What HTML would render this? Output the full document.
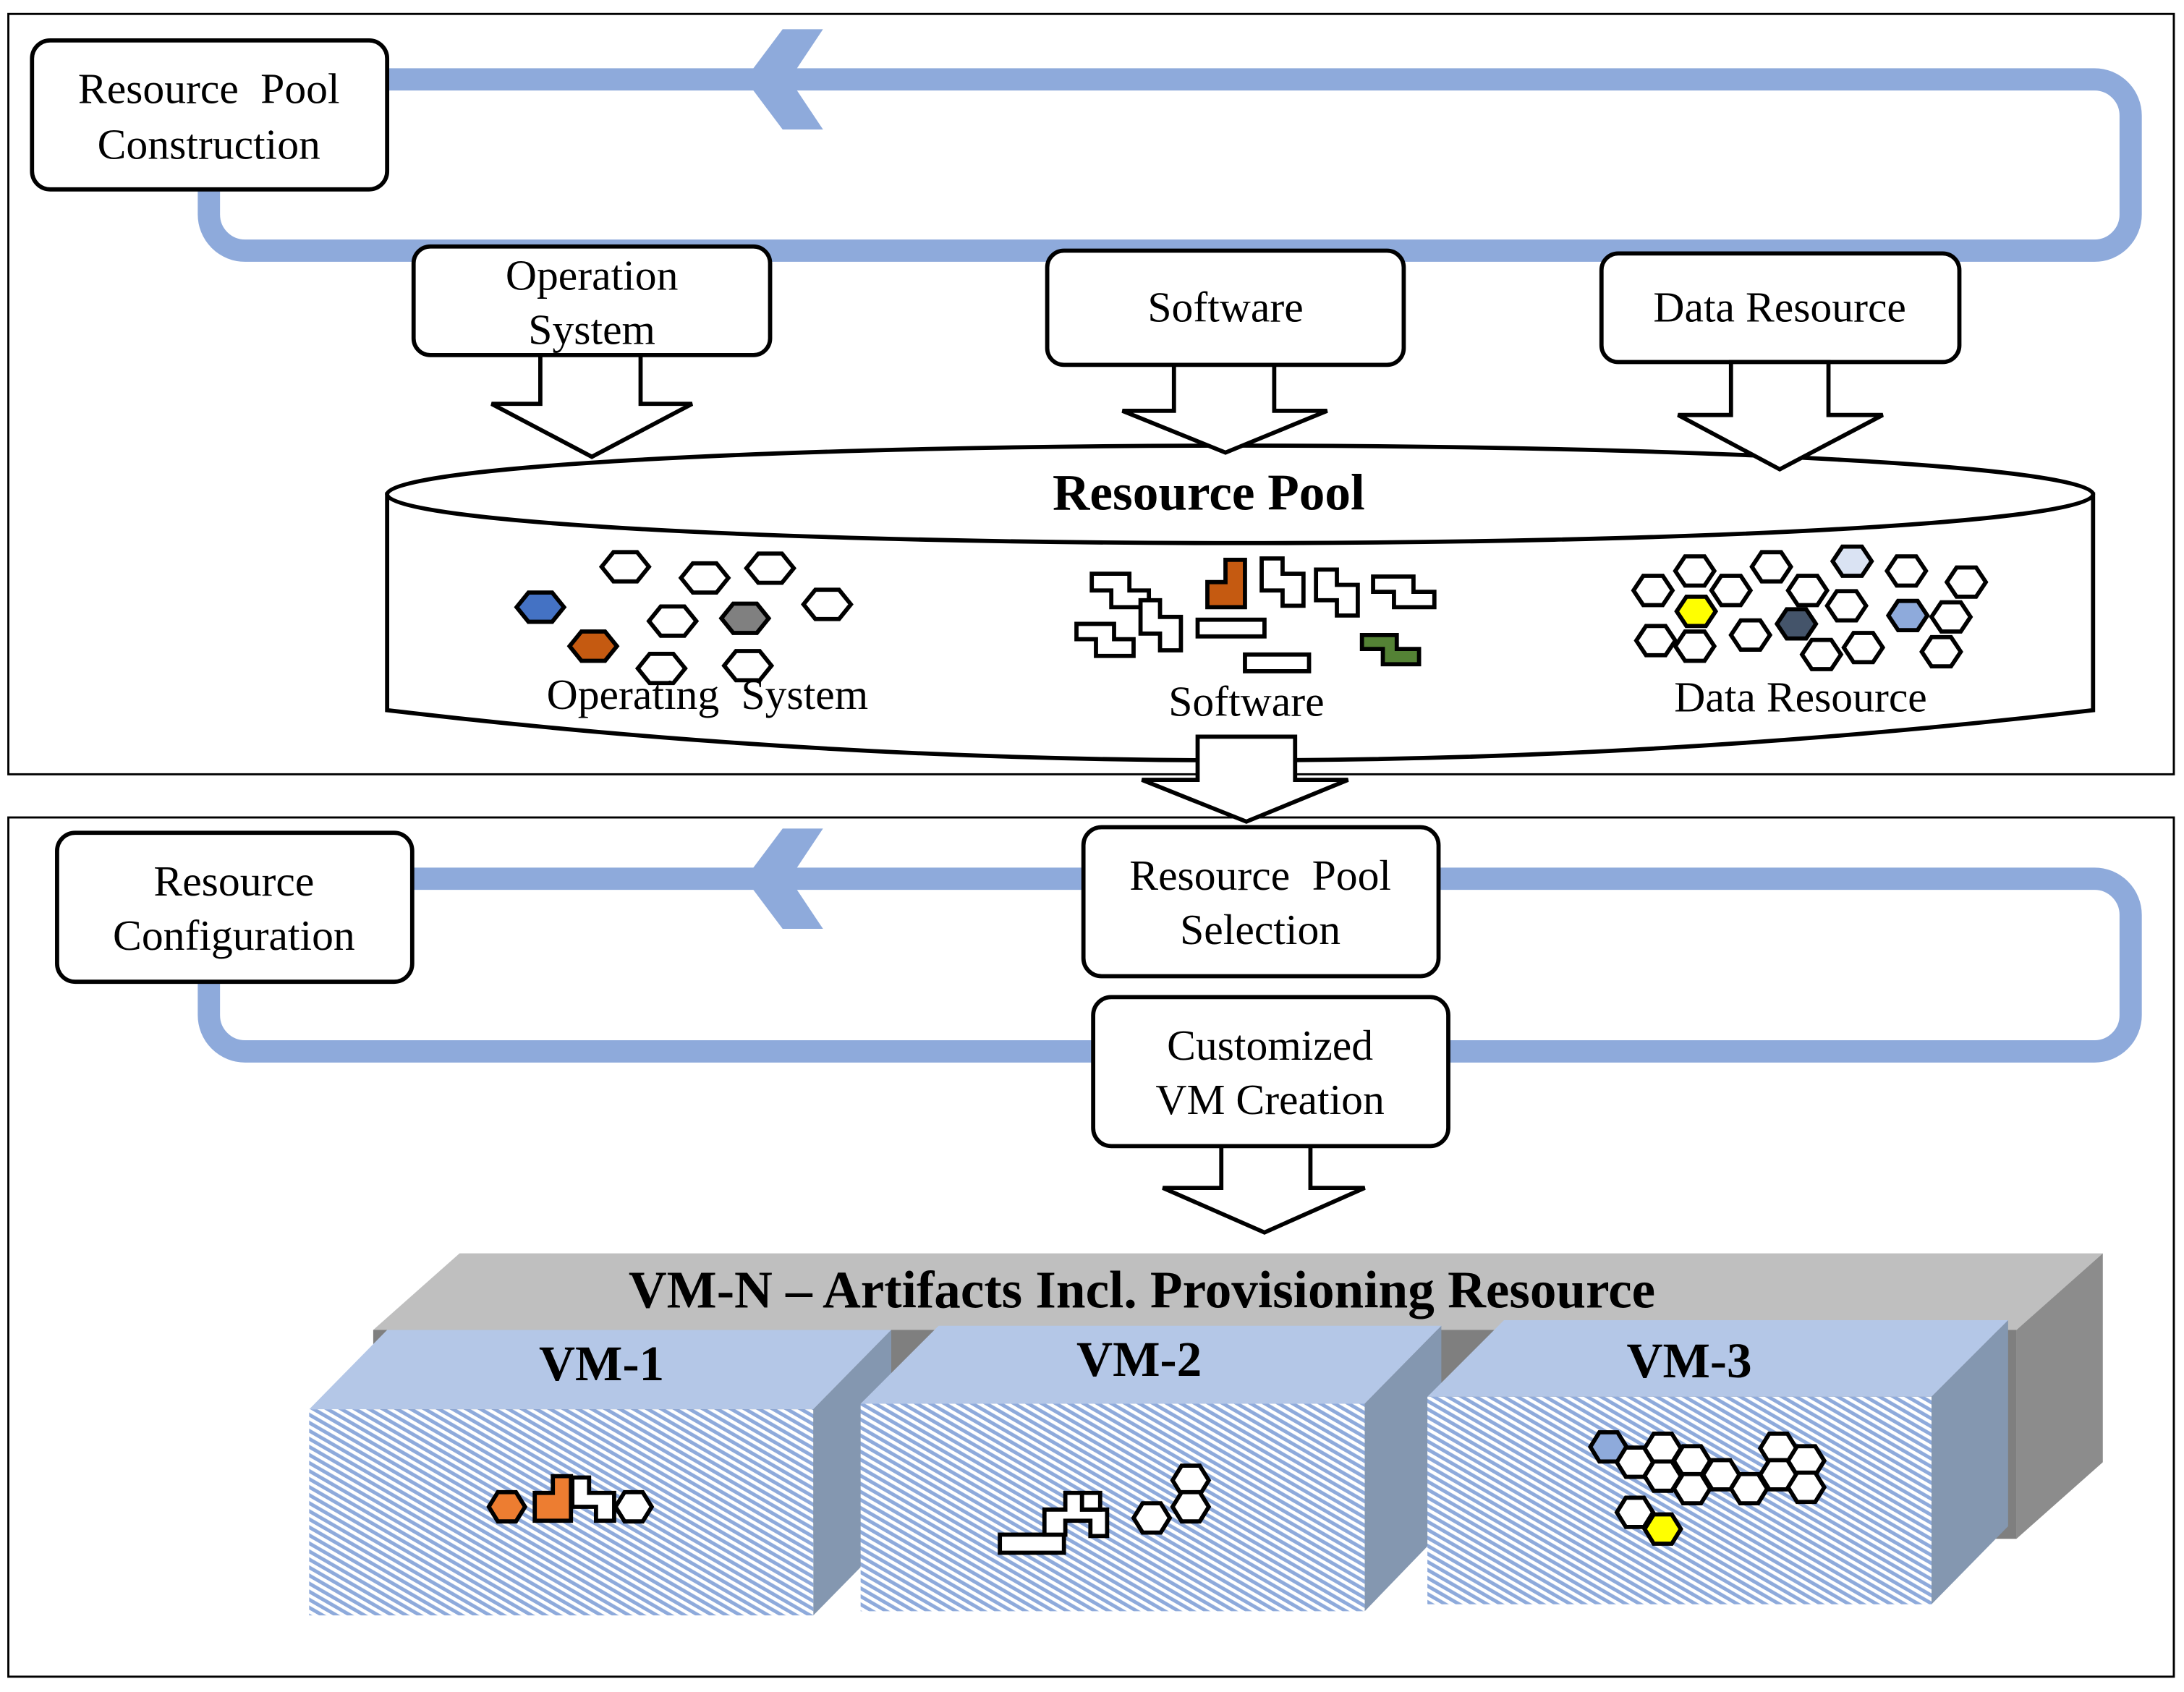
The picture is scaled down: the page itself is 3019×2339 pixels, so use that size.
<!DOCTYPE html>
<html><head><meta charset="utf-8"><style>
html,body{margin:0;padding:0;background:#fff;}
svg{display:block;}
text{font-family:"Liberation Serif",serif;fill:#000;}
</style></head><body>
<svg width="3019" height="2339" viewBox="0 0 1568.3 1215" preserveAspectRatio="none" xmlns="http://www.w3.org/2000/svg">
<defs>
<polygon id="hx" points="-17,0 -8.5,-10.5 8.5,-10.5 17,0 8.5,10.5 -8.5,10.5"/>
<polygon id="hd" points="-14,0 -7,-10.5 7,-10.5 14,0 7,10.5 -7,10.5"/>
<polygon id="hv" points="-13,0 -6.5,-10.5 6.5,-10.5 13,0 6.5,10.5 -6.5,10.5"/>
<pattern id="hatch" width="5" height="5" patternUnits="userSpaceOnUse" patternTransform="rotate(-60)">
<rect width="5" height="5" fill="#ffffff"/><rect width="2.6" height="5" fill="#8eaadb"/>
</pattern>
</defs>
<rect width="1568.3" height="1215" fill="#fff"/>
<rect x="6" y="10" width="1555" height="546" fill="none" stroke="#000" stroke-width="1.5"/>
<rect x="6" y="587" width="1555" height="617" fill="none" stroke="#000" stroke-width="1.5"/>

<rect x="150" y="57" width="1380" height="123" rx="26" fill="none" stroke="#8eaadb" stroke-width="16"/>
<polygon points="535,57 562,21 591,21 567,57 591,93 562,93" fill="#8eaadb"/>
<rect x="23" y="29" width="255" height="107" rx="13" fill="#fff" stroke="#000" stroke-width="3"/>
<text x="150" y="74" font-size="31" text-anchor="middle" word-spacing="8">Resource Pool</text>
<text x="150" y="114" font-size="31" text-anchor="middle">Construction</text>

<rect x="297" y="177" width="256" height="78" rx="12" fill="#fff" stroke="#000" stroke-width="3"/>
<text x="425" y="208" font-size="31" text-anchor="middle">Operation</text>
<text x="425" y="247" font-size="31" text-anchor="middle">System</text>
<rect x="752" y="180" width="256" height="82" rx="12" fill="#fff" stroke="#000" stroke-width="3"/>
<text x="880" y="231" font-size="31" text-anchor="middle">Software</text>
<rect x="1150" y="182" width="257" height="78" rx="12" fill="#fff" stroke="#000" stroke-width="3"/>
<text x="1278" y="231" font-size="31" text-anchor="middle">Data Resource</text>

<path d="M278,355 L278,510 Q890,582 1503,510 L1503,355 Z" fill="#fff" stroke="#000" stroke-width="3"/>
<ellipse cx="890.5" cy="355" rx="612.5" ry="35" fill="#fff" stroke="#000" stroke-width="3"/>
<text x="868" y="366" font-size="37" font-weight="bold" text-anchor="middle">Resource Pool</text>

<polygon points="388,255 460,255 460,290 497,290 425,328 353,290 388,290" fill="#fff" stroke="#000" stroke-width="3"/>
<polygon points="843,262 915,262 915,295 953,295 880,325 806,295 843,295" fill="#fff" stroke="#000" stroke-width="3"/>
<polygon points="1243,260 1313,260 1313,298 1352,298 1278,337 1205,298 1243,298" fill="#fff" stroke="#000" stroke-width="3"/>

<g stroke="#000" stroke-width="3">
<use href="#hx" x="449" y="407" fill="#fff"/>
<use href="#hx" x="506" y="415" fill="#fff"/>
<use href="#hx" x="553" y="408" fill="#fff"/>
<use href="#hx" x="388" y="436" fill="#4472c4"/>
<use href="#hx" x="483" y="446" fill="#fff"/>
<use href="#hx" x="535" y="444" fill="#808080"/>
<use href="#hx" x="594" y="434" fill="#fff"/>
<use href="#hx" x="426" y="464" fill="#c55a11"/>
<use href="#hx" x="475" y="480" fill="#fff"/>
<use href="#hx" x="537" y="478" fill="#fff"/>
</g>
<g stroke="#000" stroke-width="3" fill="#fff">
<polygon points="784,412 811,412 811,424 825,424 825,436 798,436 798,424 784,424"/>
<polygon points="880,402 894,402 894,436 867,436 867,418 880,418" fill="#c55a11"/>
<polygon points="906,401 921,401 921,412 936,412 936,435 921,435 921,424 906,424"/>
<polygon points="945,409 960,409 960,420 975,420 975,442 960,442 960,431 945,431"/>
<polygon points="986,414 1015,414 1015,425 1030,425 1030,436 1001,436 1001,425 986,425"/>
<polygon points="819,431 833,431 833,443 848,443 848,467 833,467 833,455 819,455"/>
<polygon points="773,448 800,448 800,459 814,459 814,471 787,471 787,459 773,459"/>
<rect x="860" y="445" width="48" height="12"/>
<rect x="894" y="470" width="46" height="12"/>
<polygon points="978,456 1003,456 1003,466 1019,466 1019,477 993,477 993,466 978,466" fill="#548235"/>
</g>
<g stroke="#000" stroke-width="3">
<use href="#hd" x="1187" y="424" fill="#fff"/>
<use href="#hd" x="1217" y="410" fill="#fff"/>
<use href="#hd" x="1243" y="424" fill="#fff"/>
<use href="#hd" x="1272" y="407" fill="#fff"/>
<use href="#hd" x="1298" y="424" fill="#fff"/>
<use href="#hd" x="1330" y="403" fill="#dae3f3"/>
<use href="#hd" x="1369" y="410" fill="#fff"/>
<use href="#hd" x="1412" y="418" fill="#fff"/>
<use href="#hd" x="1218" y="439" fill="#ffff00"/>
<use href="#hd" x="1326" y="435" fill="#fff"/>
<use href="#hd" x="1290" y="448" fill="#44546a"/>
<use href="#hd" x="1370" y="442" fill="#8eaadb"/>
<use href="#hd" x="1401" y="443" fill="#fff"/>
<use href="#hd" x="1189" y="460" fill="#fff"/>
<use href="#hd" x="1217" y="464" fill="#fff"/>
<use href="#hd" x="1257" y="456" fill="#fff"/>
<use href="#hd" x="1308" y="470" fill="#fff"/>
<use href="#hd" x="1338" y="465" fill="#fff"/>
<use href="#hd" x="1394" y="468" fill="#fff"/>
</g>
<text x="508" y="509" font-size="31" text-anchor="middle" word-spacing="8">Operating System</text>
<text x="895" y="514" font-size="31" text-anchor="middle">Software</text>
<text x="1293" y="511" font-size="31" text-anchor="middle">Data Resource</text>

<polygon points="860,529 930,529 930,560 968,560 895,590 820,560 860,560" fill="#fff" stroke="#000" stroke-width="3"/>

<rect x="150" y="631" width="1380" height="124" rx="26" fill="none" stroke="#8eaadb" stroke-width="16"/>
<polygon points="535,631 562,595 591,595 567,631 591,667 562,667" fill="#8eaadb"/>
<rect x="41" y="598" width="255" height="107" rx="13" fill="#fff" stroke="#000" stroke-width="3"/>
<text x="168" y="643" font-size="31" text-anchor="middle">Resource</text>
<text x="168" y="682" font-size="31" text-anchor="middle">Configuration</text>
<rect x="778" y="594" width="255" height="107" rx="13" fill="#fff" stroke="#000" stroke-width="3"/>
<text x="905" y="639" font-size="31" text-anchor="middle" word-spacing="8">Resource Pool</text>
<text x="905" y="678" font-size="31" text-anchor="middle">Selection</text>
<rect x="785" y="716" width="255" height="107" rx="13" fill="#fff" stroke="#000" stroke-width="3"/>
<text x="912" y="761" font-size="31" text-anchor="middle">Customized</text>
<text x="912" y="800" font-size="31" text-anchor="middle">VM Creation</text>
<polygon points="877,823 941,823 941,853 980,853 908,885 835,853 877,853" fill="#fff" stroke="#000" stroke-width="3"/>

<polygon points="268,955 330,900 1510,900 1448,955" fill="#bfbfbf"/>
<rect x="268" y="955" width="1180" height="150" fill="#7f7f7f"/>
<polygon points="1448,955 1510,900 1510,1050 1448,1105" fill="#8c8c8c"/>
<text x="820" y="939" font-size="38" font-weight="bold" text-anchor="middle">VM-N – Artifacts Incl. Provisioning Resource</text>

<polygon points="222,1012 278,955 640,955 584,1012" fill="#b4c7e7"/>
<polygon points="584,1012 640,955 640,1103 584,1160" fill="#8497b0"/>
<rect x="222" y="1012" width="362" height="148" fill="url(#hatch)"/>
<text x="432" y="991" font-size="36" font-weight="bold" text-anchor="middle">VM-1</text>
<polygon points="618,1008 674,952 1035,952 980,1008" fill="#b4c7e7"/>
<polygon points="980,1008 1035,952 1035,1100 980,1157" fill="#8497b0"/>
<rect x="618" y="1008" width="362" height="149" fill="url(#hatch)"/>
<text x="818" y="988" font-size="36" font-weight="bold" text-anchor="middle">VM-2</text>
<polygon points="1025,1003 1080,948 1442,948 1387,1003" fill="#b4c7e7"/>
<polygon points="1387,1003 1442,948 1442,1096 1387,1152" fill="#8497b0"/>
<rect x="1025" y="1003" width="362" height="149" fill="url(#hatch)"/>
<text x="1213" y="989" font-size="36" font-weight="bold" text-anchor="middle">VM-3</text>

<g stroke="#000" stroke-width="3">
<use href="#hv" x="364" y="1082" fill="#ed7d31"/>
<polygon points="397,1060 410,1060 410,1092 384,1092 384,1072 397,1072" fill="#ed7d31"/>
<polygon points="411,1061 423,1061 423,1072 441,1072 441,1092 428,1092 428,1082 411,1082" fill="#fff"/>
<use href="#hv" x="455" y="1082" fill="#fff"/>

<rect x="718" y="1102" width="46" height="13" fill="#fff"/>
<polygon points="765,1072 777,1072 777,1084 795,1084 795,1103 783,1103 783,1092 765,1092 765,1102 750,1102 750,1084 765,1084" fill="#fff"/>
<polygon points="777,1072 790,1072 790,1084 777,1084" fill="#fff"/>
<use href="#hv" x="827" y="1090" fill="#fff"/>
<use href="#hv" x="855" y="1063" fill="#fff"/>
<use href="#hv" x="855" y="1082" fill="#fff"/>

<use href="#hv" x="1155" y="1039" fill="#8eaadb"/>
<use href="#hv" x="1194" y="1040" fill="#fff"/>
<use href="#hv" x="1277" y="1040" fill="#fff"/>
<use href="#hv" x="1174" y="1050" fill="#fff"/>
<use href="#hv" x="1215" y="1049" fill="#fff"/>
<use href="#hv" x="1297" y="1049" fill="#fff"/>
<use href="#hv" x="1194" y="1060" fill="#fff"/>
<use href="#hv" x="1236" y="1059" fill="#fff"/>
<use href="#hv" x="1277" y="1059" fill="#fff"/>
<use href="#hv" x="1215" y="1069" fill="#fff"/>
<use href="#hv" x="1256" y="1069" fill="#fff"/>
<use href="#hv" x="1297" y="1068" fill="#fff"/>
<use href="#hv" x="1174" y="1086" fill="#fff"/>
<use href="#hv" x="1194" y="1098" fill="#ffff00"/>
</g>
</svg>
</body></html>
